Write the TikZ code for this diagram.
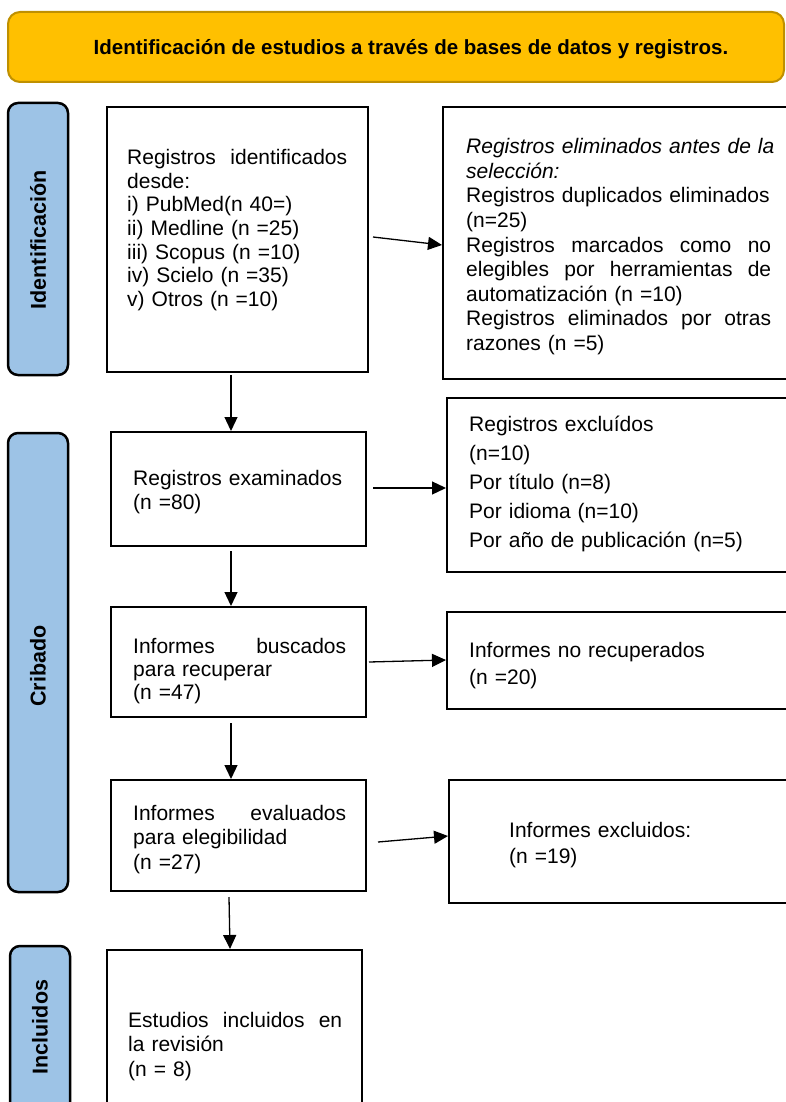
\documentclass[tikz,border=0pt]{standalone}
\usepackage{fontspec}
\setmainfont{Liberation Sans}
\usetikzlibrary{calc,arrows.meta}
\definecolor{banfill}{HTML}{FFC000}
\definecolor{bandraw}{HTML}{BF9000}
\definecolor{sidefill}{HTML}{9DC3E6}
\tikzset{
 box/.style={draw=black, line width=2pt, inner sep=0pt},
 side/.style={draw=black, line width=2.5pt, fill=sidefill, rounded corners=10pt, inner sep=0pt},
 sidelabel/.style={rotate=90, font=\fontsize{21.5}{24}\selectfont\bfseries, inner sep=0pt},
 txt/.style={anchor=base west, inner sep=0pt, align=left},
 arr/.style={line width=1.3pt, -{Triangle[length=14pt,width=13pt]}},
}
\begin{document}
\begin{tikzpicture}[x=1pt,y=-1pt]
\useasboundingbox (0,0) rectangle (786,1102);
\clip (0,0) rectangle (786,1102);
\fill[white] (0,0) rectangle (786,1102);
% banner
\node[draw=bandraw, fill=banfill, line width=2pt, rounded corners=12pt, minimum width=776pt, minimum height=70pt, inner sep=0pt] (ban) at (396,47) {};
\node[anchor=base, inner sep=0pt, font=\fontsize{20.5}{24}\selectfont\bfseries] (title) at (411,55) {Identificación de estudios a través de bases de datos y registros.};
% side bars
\node[side, minimum width=60pt, minimum height=272pt] (s1) at (38,239) {};
\node[sidelabel] (l1) at (38,240) {Identificación};
\node[side, minimum width=60pt, minimum height=459pt] (s2) at (38,662.5) {};
\node[sidelabel] (l2) at (38,666) {Cribado};
\node[side, minimum width=60pt, minimum height=169pt] (s3) at (40,1030.5) {};
\node[sidelabel] (l3) at (40,1027) {Incluidos};
% boxes
\node[box, minimum width=261pt, minimum height=265pt] (b1) at (237.5,239.5) {};
\node[box, minimum width=349pt, minimum height=272pt] (b2) at (617.5,243) {};
\node[box, minimum width=255pt, minimum height=114pt] (b3) at (238.5,489) {};
\node[box, minimum width=345pt, minimum height=174pt] (b4) at (619.5,485) {};
\node[box, minimum width=255pt, minimum height=110pt] (b5) at (238.5,662) {};
\node[box, minimum width=345pt, minimum height=97pt] (b6) at (619.5,660.5) {};
\node[box, minimum width=255pt, minimum height=111pt] (b7) at (238.5,835.5) {};
\node[box, minimum width=343pt, minimum height=123pt] (b8) at (620.5,841.5) {};
\node[box, minimum width=255pt, minimum height=165pt] (b9) at (234.5,1032.5) {};
% texts
\node[txt, text width=220pt, font=\fontsize{21}{23.5}\selectfont] (t1) at (127,165) {\makebox[\linewidth]{Registros\hfill identificados}\\ desde:\\ i) PubMed(n 40=)\\ ii) Medline (n =25)\\ iii) Scopus (n =10)\\ iv) Scielo (n =35)\\ v) Otros (n =10)};
\node[txt, text width=305pt, font=\fontsize{21}{24.5}\selectfont] (t2) at (466,154) {\makebox[\linewidth][l]{\itshape Registros eliminados antes de la}\\ \textit{selección:}\\ Registros duplicados eliminados\\ (n=25)\\ \makebox[\linewidth]{Registros\hfill marcados\hfill como\hfill no}\\ \makebox[\linewidth]{elegibles\hfill por\hfill herramientas\hfill de}\\ automatización (n =10)\\ \makebox[\linewidth]{Registros\hfill eliminados\hfill por\hfill otras}\\ razones (n =5)};
\node[txt, text width=300pt, font=\fontsize{21}{29}\selectfont] (t3) at (469,431) {Registros excluídos\\ (n=10)\\ Por título (n=8)\\ Por idioma (n=10)\\ Por año de publicación (n=5)};
\node[txt, text width=300pt, font=\fontsize{21}{27}\selectfont] (t4) at (469,657) {Informes no recuperados\\ (n =20)};
\node[txt, text width=260pt, font=\fontsize{21}{26}\selectfont] (t5) at (509,837) {Informes excluidos:\\ (n =19)};
\node[txt, text width=215pt, font=\fontsize{21}{24}\selectfont] (t6) at (133,485) {Registros examinados\\ (n =80)};
\node[txt, text width=213pt, font=\fontsize{21}{23}\selectfont] (t7) at (133,653) {\makebox[\linewidth]{Informes\hfill buscados}\\ para recuperar\\ (n =47)};
\node[txt, text width=213pt, font=\fontsize{21}{24.5}\selectfont] (t8) at (133,820) {\makebox[\linewidth]{Informes\hfill evaluados}\\ para elegibilidad\\ (n =27)};
\node[txt, text width=214pt, font=\fontsize{21}{24.5}\selectfont] (t9) at (128,1027) {\makebox[\linewidth]{Estudios\hfill incluidos\hfill en}\\ la revisión\\ (n = 8)};
% arrows
\draw[arr] ($(b1.east)+(4,-2.5)$) -- ($(b2.west)+(0,2)$);
\draw[arr] ($(b1.south)+(-6.5,2)$) -- ($(b3.north)+(-7.5,0)$);
\draw[arr] ($(b3.east)+(6,-1)$) -- ($(b4.west)+(0,3)$);
\draw[arr] ($(b3.south)+(-7.5,4)$) -- ($(b5.north)+(-7.5,0)$);
\draw[arr] ($(b5.east)+(2,0)$) -- ($(b6.west)+(0,-0.5)$);
\draw[arr] ($(b5.south)+(-7.5,5)$) -- ($(b7.north)+(-7.5,0)$);
\draw[arr] ($(b7.east)+(11,6.5)$) -- ($(b8.west)+(0,-5.5)$);
\draw[arr] ($(b7.south)+(-9.5,5)$) -- ($(b9.north)+(-4.5,0)$);
\end{tikzpicture}
\end{document}
